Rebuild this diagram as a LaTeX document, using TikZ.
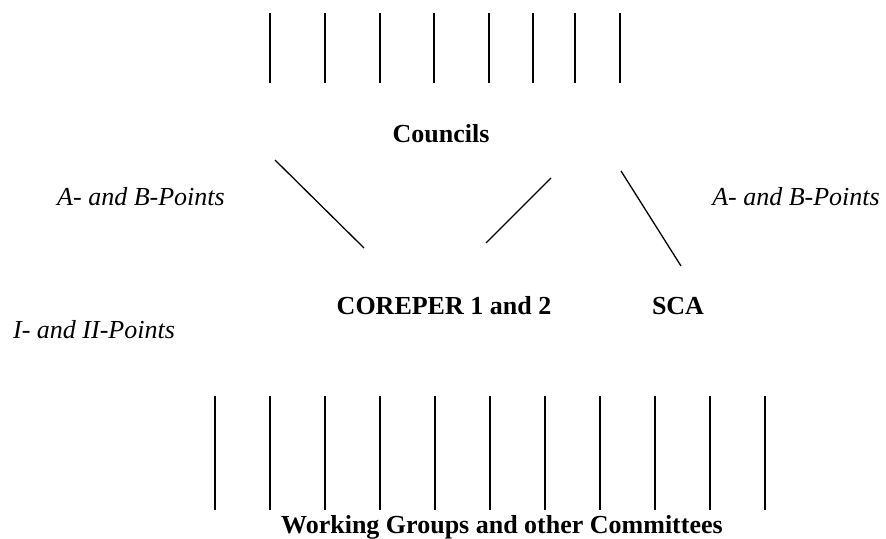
\documentclass[tikz,border=0pt]{standalone}
\usepackage{fontspec}
\setmainfont{Liberation Serif}
\usepackage{tikz}

\begin{document}
\begin{tikzpicture}[x=0.5pt, y=-0.5pt, line width=0.65pt,
  body/.style={anchor=base, inner sep=0pt, font=\fontsize{13}{15}\selectfont\bfseries},
  points/.style={anchor=base, inner sep=0pt, font=\fontsize{13}{15}\selectfont\itshape}]
\useasboundingbox (0,0) rectangle (886,539);
% councils
\draw (270,13) -- (270,83);
\draw (325,13) -- (325,83);
\draw (380,13) -- (380,83);
\draw (434,13) -- (434,83);
\draw (489,13) -- (489,83);
\draw (533,13) -- (533,83);
\draw (575,13) -- (575,83);
\draw (620,13) -- (620,83);
\node[body] (councils) at (441,143) {Councils};
\node[points] (ableft) at (141,206) {A- and B-Points};
\node[points] (abright) at (796,206) {A- and B-Points};
\node[points] (onetwo) at (94,338) {I- and II-Points};
\node[body] (coreper) at (444,314) {COREPER 1 and 2};
\node[body] (sca) at (678,314) {SCA};
\coordinate (c1) at (275,160);
\coordinate (p1) at (364,248);
\coordinate (c2) at (551,178);
\coordinate (p2) at (486,243);
\coordinate (c3) at (621,171);
\coordinate (s3) at (681,266);
\draw (c1) -- (p1);
\draw (c2) -- (p2);
\draw (c3) -- (s3);
% working groups
\draw (215,396) -- (215,510);
\draw (270,396) -- (270,510);
\draw (325,396) -- (325,510);
\draw (380,396) -- (380,510);
\draw (435,396) -- (435,510);
\draw (490,396) -- (490,510);
\draw (545,396) -- (545,510);
\draw (600,396) -- (600,510);
\draw (655,396) -- (655,510);
\draw (710,396) -- (710,510);
\draw (765,396) -- (765,510);
\node[body] (groups) at (502,533) {Working Groups and other Committees};
\end{tikzpicture}
\end{document}
